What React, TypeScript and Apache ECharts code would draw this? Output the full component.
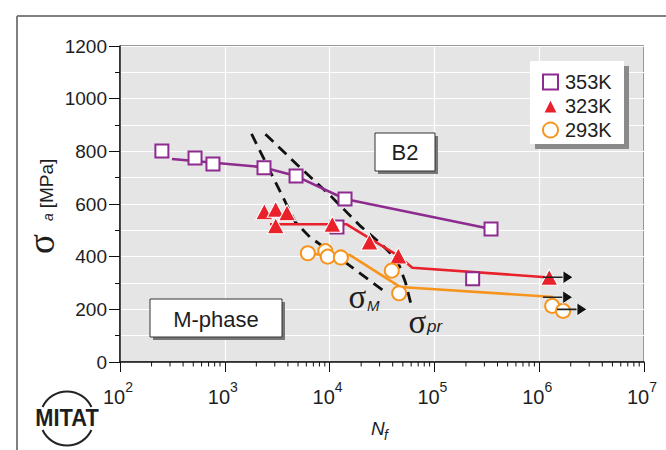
import React, { useEffect, useRef } from "react";
import * as echarts from "echarts";

// ---- data (N_f in cycles, stress amplitude in MPa) ----
const sq353N = [251, 520, 771, 2366, 4786, 14030, 11750, 347000, 231800];
const sq353S = [801, 775, 752, 738, 706, 619, 513, 505, 316];

const tri323N = [2382, 3060, 3925, 3060, 10620, 24000, 45300, 1247000];
const tri323S = [571, 580, 567, 517, 523, 456, 403, 322];

const circ293N = [6200, 9100, 9600, 12800, 39200, 46100, 1330000, 1690000];
const circ293S = [413, 421, 400, 397, 347, 261, 213, 194];

const line353N = [313, 2300, 4786, 14030, 347000];
const line353S = [771, 740, 706, 619, 505];

const line323N = [2700, 14560, 45300, 61500, 1250000];
const line323S = [523, 523, 403, 358, 321];

const line293N = [6200, 15670, 47000, 1355000];
const line293S = [410, 406, 285, 247];

const sigmaMN = [1800, 2900, 4700, 6500, 15700, 33800];
const sigmaMS = [866, 700, 532, 474, 365, 266];

const sigmaPrN = [2443, 4932, 10400, 19950, 31850, 44150, 53200, 61100];
const sigmaPrS = [865, 748, 628, 514, 444, 387, 300, 204];

const arrowStartN = [1087000, 1087000, 1480000];
const arrowEndN = [1726000, 1726000, 2300000];
const arrowHeadN = [1884000, 1870000, 2560000];
const arrowS = [322, 246, 200];

const legendNames = ["353K", "323K", "293K"];
const decades = [100, 1000, 10000, 100000, 1000000];
const minorMultipliers = [2, 3, 4, 5, 6, 7, 8, 9];

const PURPLE = "#8e2b8f";
const RED = "#e8212b";
const ORANGE = "#f7941d";
const INK = "#1e1e1e";

const zip = (xs: number[], ys: number[]) => xs.map((x, i) => [x, ys[i]]);

const txt = (x: number, y: number, text: string, fontSize: number, extra: any = {}, el: any = {}) => ({
  type: "text",
  x,
  y,
  z: 9,
  ...el,
  style: {
    text,
    fontSize,
    fontFamily: "Liberation Sans",
    fill: INK,
    align: "left",
    verticalAlign: "middle",
    ...extra,
  },
});

export default function App() {
  const ref = useRef<HTMLDivElement>(null);
  useEffect(() => {
    const chart = echarts.init(ref.current!, null, { renderer: "svg" });

    const minorTicks: number[][] = [];
    decades.forEach((d) => minorMultipliers.forEach((m) => minorTicks.push([d * m, 0])));

    const arrowSeries: any[] = [];
    arrowS.forEach((s, i) => {
      arrowSeries.push({
        type: "line",
        name: "arrow" + i,
        data: [
          [arrowStartN[i], s],
          [arrowEndN[i], s],
        ],
        symbol: "none",
        lineStyle: { color: "#222", width: 1.6 },
        z: 6,
        silent: true,
      });
    });

    const R = Math.PI / 2;

    const option: any = {
      animation: false,
      textStyle: { fontFamily: "Liberation Sans" },
      grid: {
        left: 120,
        right: 22,
        top: 46,
        bottom: 88,
        show: true,
        backgroundColor: "#e5e5e5",
        borderColor: "#333",
        borderWidth: 1,
      },
      xAxis: {
        type: "log",
        logBase: 10,
        min: 100,
        max: 10000000,
        axisLine: { lineStyle: { color: "#111", width: 1.5 } },
        axisTick: { length: 10, lineStyle: { color: "#111", width: 1 } },
        splitLine: { show: true, lineStyle: { color: "#fff", width: 1.2 } },
        axisLabel: {
          margin: 18,
          color: INK,
          formatter: (v: number) => `{b|10}{s|${Math.round(Math.log10(v))}}`,
          rich: {
            b: { fontSize: 20, lineHeight: 27, verticalAlign: "bottom", color: INK, fontFamily: "Liberation Sans" },
            s: { fontSize: 14, lineHeight: 14, verticalAlign: "top", color: INK, fontFamily: "Liberation Sans", padding: [0, 4, 0, 0] },
          },
        },
      },
      yAxis: {
        type: "value",
        min: 0,
        max: 1200,
        interval: 200,
        axisLine: { show: true, lineStyle: { color: "#111", width: 1.5 } },
        axisTick: { show: true, length: 11, lineStyle: { color: "#111", width: 1 } },
        minorTick: { show: true, splitNumber: 2, length: 5, lineStyle: { color: "#111", width: 1 } },
        splitLine: { show: true, lineStyle: { color: "#fff", width: 1.2 } },
        minorSplitLine: { show: true, lineStyle: { color: "#fff", width: 1.2 } },
        axisLabel: { fontSize: 19, color: INK, margin: 13, formatter: (v: number) => String(v) },
      },
      legend: {
        data: legendNames,
        orient: "vertical",
        left: 537,
        top: 67,
        itemWidth: 15,
        itemHeight: 15,
        itemGap: 4,
        selectedMode: false,
        textStyle: { fontSize: 20, color: INK, fontFamily: "Liberation Sans", padding: [0, 0, 0, 2] },
        z: 10,
      },
      graphic: [
        // outer frame
        { type: "line", shape: { x1: 17, y1: 16, x2: 666, y2: 16 }, style: { stroke: "#808080", lineWidth: 2 }, z: 1 },
        { type: "line", shape: { x1: 17, y1: 16, x2: 17, y2: 450 }, style: { stroke: "#808080", lineWidth: 2 }, z: 1 },
        // legend box
        { type: "rect", shape: { x: 535, y: 66, width: 94, height: 83 }, style: { fill: "#8a8a8a" }, z: 8 },
        { type: "rect", shape: { x: 530, y: 61, width: 94, height: 83 }, style: { fill: "#fff" }, z: 8 },
        // B2 box
        { type: "rect", shape: { x: 378, y: 136, width: 60, height: 38 }, style: { fill: "#777" }, z: 8 },
        { type: "rect", shape: { x: 375, y: 133, width: 60, height: 38 }, style: { fill: "#fff", stroke: "#333", lineWidth: 1 }, z: 8 },
        txt(405, 152, "B2", 22, { align: "center" }),
        // M-phase box
        { type: "rect", shape: { x: 153, y: 302, width: 132, height: 38 }, style: { fill: "#777" }, z: 8 },
        { type: "rect", shape: { x: 150, y: 299, width: 132, height: 38 }, style: { fill: "#fff", stroke: "#333", lineWidth: 1 }, z: 8 },
        txt(216, 319, "M-phase", 22, { align: "center" }),
        // sigma_M label
        txt(357.5, 296.5, "σ", 33, { align: "center", fontFamily: "Liberation Serif" }),
        txt(367, 305, "M", 15, { fontStyle: "italic" }),
        // sigma_pr label
        txt(417.5, 322, "σ", 33, { align: "center", fontFamily: "Liberation Serif" }),
        txt(427, 326, "pr", 17, { fontStyle: "italic" }),
        // y axis name (rotated pieces)
        txt(41, 244, "σ", 37, { align: "center", fontFamily: "Liberation Serif" }, { rotation: R }),
        txt(47.5, 217, "a", 14, { align: "center", fontStyle: "italic" }, { rotation: R }),
        txt(46, 183.5, "[MPa]", 19, { align: "center" }, { rotation: R }),
        // x axis name
        txt(371, 428, "N", 19, { fontStyle: "italic" }),
        txt(384, 435, "f", 14, { fontStyle: "italic" }),
        // MITAT logo
        { type: "arc", shape: { cx: 67, cy: 418.5, r: 27, startAngle: -Math.PI * 0.86, endAngle: -Math.PI * 0.14, clockwise: true }, style: { stroke: "#222", lineWidth: 2, fill: "none" }, z: 9 },
        { type: "arc", shape: { cx: 67, cy: 418.5, r: 27, startAngle: Math.PI * 0.14, endAngle: Math.PI * 0.86, clockwise: true }, style: { stroke: "#222", lineWidth: 2, fill: "none" }, z: 9 },
        txt(67, 418.5, "MITAT", 23, { align: "center", fontWeight: "bold" }, { scaleX: 0.95 }),
      ],
      series: [
        {
          type: "custom",
          name: "minorTicks",
          data: minorTicks,
          clip: false,
          silent: true,
          z: 5,
          renderItem: (params: any, api: any) => {
            const p = api.coord([api.value(0), 0]);
            return {
              type: "line",
              shape: { x1: p[0], y1: p[1], x2: p[0], y2: p[1] + 4.5 },
              style: { stroke: "#111", lineWidth: 1 },
            };
          },
        },
        {
          type: "line",
          name: "sigmaM",
          data: zip(sigmaMN, sigmaMS),
          symbol: "none",
          lineStyle: { color: "#111", width: 2.8, type: [11, 7] },
          z: 2,
          silent: true,
        },
        {
          type: "line",
          name: "sigmaPr",
          data: zip(sigmaPrN, sigmaPrS),
          symbol: "none",
          lineStyle: { color: "#111", width: 2.8, type: [11, 7] },
          z: 2,
          silent: true,
        },
        { type: "line", name: "l353", data: zip(line353N, line353S), symbol: "none", lineStyle: { color: PURPLE, width: 2.6 }, z: 3, silent: true },
        { type: "line", name: "l323", data: zip(line323N, line323S), symbol: "none", lineStyle: { color: RED, width: 2.6 }, z: 3, silent: true },
        { type: "line", name: "l293", data: zip(line293N, line293S), symbol: "none", lineStyle: { color: ORANGE, width: 2.6 }, z: 3, silent: true },
        {
          type: "scatter",
          name: "353K",
          data: zip(sq353N, sq353S),
          symbol: "rect",
          symbolSize: 13,
          itemStyle: { color: "#fff", borderColor: PURPLE, borderWidth: 2, opacity: 1 },
          z: 4,
        },
        {
          type: "scatter",
          name: "323K",
          data: zip(tri323N, tri323S),
          symbol: "triangle",
          symbolSize: [17, 16],
          itemStyle: { color: RED, borderColor: "#fff", borderWidth: 1, opacity: 1 },
          z: 4,
        },
        {
          type: "scatter",
          name: "293K",
          data: zip(circ293N, circ293S),
          symbol: "circle",
          symbolSize: 14,
          itemStyle: { color: "#fff", borderColor: ORANGE, borderWidth: 2, opacity: 1 },
          z: 4,
        },
        ...arrowSeries,
        {
          type: "scatter",
          name: "arrowHeads",
          data: zip(arrowHeadN, arrowS),
          symbol: "triangle",
          symbolRotate: -90,
          symbolSize: [13, 10],
          itemStyle: { color: "#111", borderColor: "#fff", borderWidth: 0.8, opacity: 1 },
          z: 6,
          silent: true,
        },
      ],
    };

    chart.setOption(option);
    return () => chart.dispose();
  }, []);

  return (
    <div
      ref={ref}
      style={{ position: "absolute", left: 0, top: 0, width: 666, height: 450, background: "#fff" }}
    />
  );
}
